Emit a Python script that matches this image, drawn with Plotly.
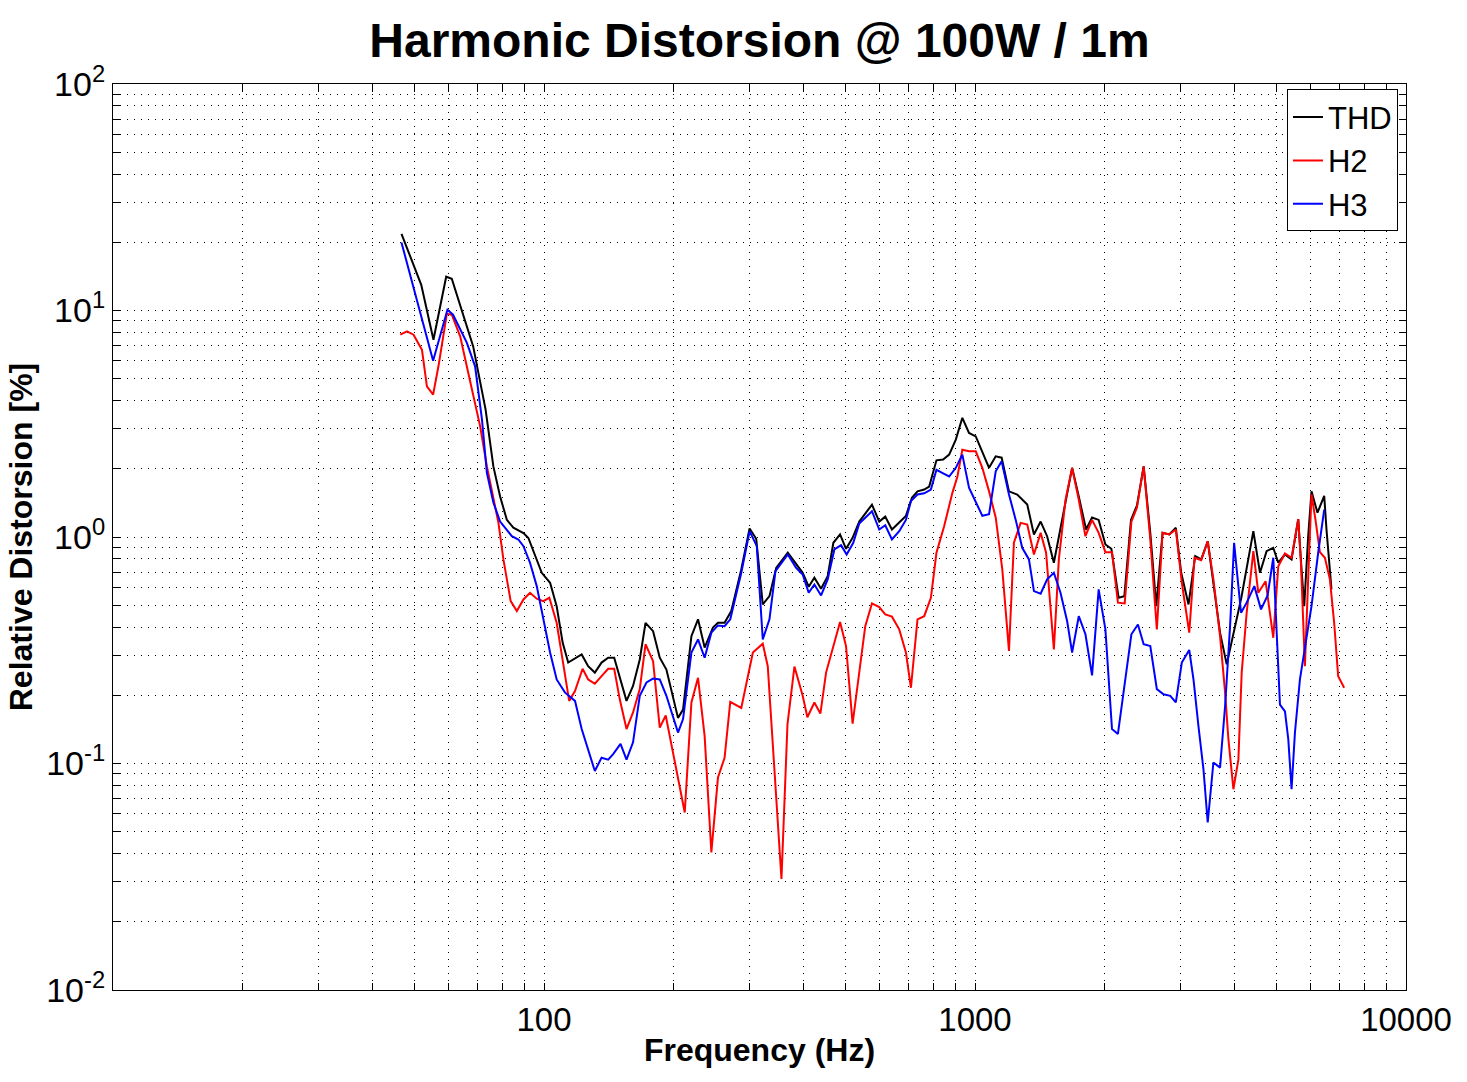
import plotly.graph_objects as go

# ---------------- data ----------------
thd_freq = [46.7, 51.9, 55.4, 59.3, 61.1, 68.5, 73.2, 76.3, 79.1, 82.0,
            84.9, 89.6, 92.0, 95.3, 98.8, 103.3, 107.0, 110.5, 113.8, 122.3,
            126.6, 131.2, 136.0, 140.9, 145.5, 155.4, 160.9, 166.8, 172.0, 179.1,
            185.6, 192.3, 204.6, 210.2, 219.8, 227.7, 235.9, 246.6, 253.3, 262.4,
            272.0, 286.9, 299.9, 310.7, 321.8, 333.5, 345.7, 367.8, 384.6, 398.3,
            411.3, 424.0, 439.4, 455.2, 469.2, 486.3, 502.1, 520.0, 538.9, 576.7,
            599.6, 619.1, 641.6, 667.1, 691.4, 713.9, 735.5, 762.3, 782.9, 813.9,
            843.5, 871.0, 902.6, 934.6, 968.5, 1004, 1040, 1078, 1117, 1153,
            1199, 1253, 1322, 1370, 1420, 1470, 1524, 1579, 1627, 1680,
            1741, 1810, 1869, 1936, 2007, 2072, 2154, 2221, 2301, 2376,
            2462, 2551, 2634, 2724, 2823, 2924, 3009, 3129, 3243, 3348,
            3467, 3574, 3703, 3837, 4150, 4424, 4584, 4748, 4921, 5054,
            5238, 5426, 5623, 5723, 5806, 5930, 6036, 6232, 6460, 6539,
            6716]
thd_vals = [21.8, 12.99, 7.43, 14.1, 13.8, 6.94, 3.65, 2.05, 1.51, 1.19,
            1.10, 1.04, 0.99, 0.823, 0.695, 0.628, 0.495, 0.341, 0.279, 0.303,
            0.269, 0.252, 0.279, 0.293, 0.293, 0.189, 0.220, 0.288, 0.418, 0.384,
            0.293, 0.260, 0.159, 0.173, 0.365, 0.433, 0.325, 0.398, 0.418, 0.418,
            0.471, 0.719, 1.09, 0.982, 0.504, 0.548, 0.731, 0.852, 0.756, 0.695,
            0.603, 0.661, 0.591, 0.672, 0.943, 1.026, 0.887, 0.992, 1.17, 1.39,
            1.17, 1.23, 1.079, 1.155, 1.24, 1.49, 1.59, 1.62, 1.67, 2.18,
            2.20, 2.31, 2.69, 3.36, 2.88, 2.78, 2.35, 2.02, 2.27, 2.24,
            1.59, 1.54, 1.39, 1.026, 1.17, 1.008, 0.770, 1.079, 1.46, 2.02,
            1.51, 1.079, 1.22, 1.19, 0.927, 0.887, 0.539, 0.548, 1.19, 1.38,
            2.05, 1.043, 0.495, 1.043, 1.026, 1.098, 0.695, 0.504, 0.823, 0.796,
            0.958, 0.628, 0.378, 0.274, 0.541, 1.061, 0.695, 0.866, 0.896, 0.770,
            0.837, 0.796, 1.20, 0.719, 0.495, 1.008, 1.59, 1.28, 1.52, 1.079,
            0.587]

h2_freq = [46.4, 48.1, 49.8, 51.2, 52.1, 53.5, 55.3, 56.9, 58.3, 59.5,
           61.1, 63.9, 66.2, 71.1, 73.7, 78.4, 80.5, 83.7, 86.5, 89.6,
           92.8, 96.2, 99.6, 102.9, 107.0, 110.8, 114.4, 118.0, 122.9, 126.6,
           131.2, 136.0, 140.9, 145.5, 149.9, 155.4, 160.9, 166.8, 172.0, 179.1,
           185.6, 191.6, 199.3, 212.1, 219.8, 227.7, 235.9, 244.5, 253.3, 262.4,
           270.5, 286.9, 305.2, 321.8, 330.5, 355.6, 367.2, 381.1, 398.3, 408.4,
           424.0, 437.8, 451.3, 486.3, 502.1, 520.0, 556.4, 576.7, 599.6, 619.1,
           641.6, 667.1, 691.4, 710.1, 735.5, 762.3, 790.0, 813.9, 848.0, 886.5,
           910.4, 934.6, 968.5, 1004, 1040, 1078, 1117, 1157, 1199, 1231,
           1276, 1322, 1370, 1420, 1462, 1524, 1565, 1622, 1680, 1741,
           1804, 1869, 1936, 2007, 2079, 2146, 2225, 2306, 2376, 2462,
           2551, 2642, 2724, 2823, 2924, 3019, 3141, 3231, 3348, 3467,
           3574, 3703, 3804, 3872, 3977, 4084, 4157, 4269, 4424, 4543,
           4723, 4921, 5054, 5238, 5426, 5623, 5705, 5827, 5953, 6036,
           6166, 6313, 6484, 6659, 6813, 6960, 7187]
h2_vals = [7.82, 8.08, 7.82, 7.06, 6.71, 4.62, 4.25, 5.67, 7.43, 9.67,
           9.58, 7.69, 5.67, 3.08, 2.05, 1.155, 0.796, 0.521, 0.471, 0.530,
           0.567, 0.534, 0.521, 0.539, 0.418, 0.269, 0.189, 0.209, 0.262, 0.235,
           0.225, 0.243, 0.262, 0.262, 0.192, 0.142, 0.168, 0.213, 0.336, 0.283,
           0.144, 0.163, 0.112, 0.0608, 0.186, 0.239, 0.132, 0.0405, 0.0867, 0.106,
           0.187, 0.176, 0.309, 0.338, 0.269, 0.0309, 0.149, 0.268, 0.199, 0.160,
           0.186, 0.166, 0.252, 0.421, 0.330, 0.150, 0.404, 0.509, 0.490, 0.455,
           0.445, 0.391, 0.309, 0.216, 0.433, 0.447, 0.539, 0.852, 1.116, 1.57,
           1.85, 2.43, 2.39, 2.39, 2.02, 1.59, 1.22, 0.719, 0.314, 0.943,
           1.155, 1.135, 0.837, 1.043, 0.852, 0.319, 0.796, 1.46, 2.02, 1.46,
           1.008, 1.19, 1.043, 0.857, 0.857, 0.513, 0.509, 1.17, 1.35, 2.05,
           0.975, 0.391, 1.043, 1.026, 1.079, 0.628, 0.378, 0.810, 0.790, 0.958,
           0.650, 0.365, 0.206, 0.128, 0.0770, 0.104, 0.252, 0.463, 0.866, 0.567,
           0.638, 0.359, 0.743, 0.846, 0.810, 1.20, 0.770, 0.269, 0.796, 1.54,
           1.19, 0.857, 0.810, 0.650, 0.418, 0.243, 0.216]

h3_freq = [46.7, 55.3, 59.7, 61.5, 66.2, 69.2, 71.8, 73.7, 76.3, 79.1,
           84.2, 87.2, 89.6, 92.8, 96.2, 100.5, 103.3, 107.0, 111.8, 118.0,
           122.3, 131.2, 136.0, 140.9, 144.7, 150.5, 155.4, 160.9, 166.8, 172.9,
           179.1, 185.6, 192.3, 204.6, 210.2, 219.8, 227.7, 235.9, 244.5, 253.3,
           262.4, 270.5, 286.9, 299.9, 311.7, 321.8, 333.5, 344.4, 367.8, 384.6,
           398.3, 411.3, 424.0, 439.4, 455.2, 471.7, 488.9, 503.7, 521.9, 538.9,
           576.7, 599.6, 619.1, 641.6, 667.1, 691.4, 710.1, 735.5, 762.3, 790.0,
           813.9, 843.5, 871.0, 902.6, 934.6, 968.5, 1004, 1040, 1078, 1117,
           1153, 1199, 1243, 1287, 1334, 1370, 1420, 1470, 1524, 1579,
           1636, 1680, 1741, 1804, 1869, 1936, 2007, 2079, 2146, 2225,
           2306, 2388, 2462, 2551, 2642, 2738, 2838, 2924, 3019, 3141,
           3213, 3300, 3389, 3467, 3574, 3703, 3804, 3907, 3992, 4069,
           4143, 4269, 4447, 4609, 4774, 4921, 5009, 5100, 5238, 5332,
           5426, 5525, 5674, 5827, 6036, 6255, 6460]
h3_vals = [19.96, 6.00, 10.08, 9.58, 7.21, 5.67, 3.30, 1.92, 1.42, 1.17,
           1.008, 0.975, 0.911, 0.770, 0.607, 0.404, 0.309, 0.235, 0.206, 0.189,
           0.142, 0.0927, 0.106, 0.104, 0.110, 0.122, 0.104, 0.124, 0.199, 0.228,
           0.237, 0.235, 0.199, 0.137, 0.157, 0.309, 0.353, 0.293, 0.378, 0.407,
           0.404, 0.433, 0.695, 1.061, 0.911, 0.353, 0.433, 0.707, 0.837, 0.731,
           0.683, 0.567, 0.617, 0.552, 0.650, 0.881, 0.920, 0.837, 0.943, 1.147,
           1.30, 1.079, 1.127, 0.975, 1.061, 1.19, 1.44, 1.54, 1.56, 1.62,
           1.98, 1.91, 1.85, 2.02, 2.31, 1.65, 1.42, 1.24, 1.26, 1.95,
           2.16, 1.54, 1.19, 0.896, 0.796, 0.577, 0.562, 0.650, 0.695, 0.567,
           0.425, 0.309, 0.447, 0.372, 0.245, 0.587, 0.391, 0.142, 0.135, 0.220,
           0.372, 0.411, 0.336, 0.330, 0.213, 0.202, 0.199, 0.186, 0.279, 0.317,
           0.235, 0.146, 0.0943, 0.0549, 0.101, 0.0959, 0.179, 0.404, 0.943, 0.650,
           0.463, 0.513, 0.607, 0.479, 0.552, 0.810, 0.353, 0.182, 0.170, 0.128,
           0.0770, 0.137, 0.235, 0.330, 0.495, 0.852, 1.32]

x_major = [100, 1000, 10000]
y_major = [0.01, 0.1, 1, 10, 100]
y_major_labels = ["10<sup>-2</sup>", "10<sup>-1</sup>", "10<sup>0</sup>",
                  "10<sup>1</sup>", "10<sup>2</sup>"]

# ---------------- ticks ----------------
x_tickvals, x_ticktext = [], []
for dec in [10, 100, 1000]:
    for m in range(1, 10):
        v = dec * m
        if v == 10:
            continue
        x_tickvals.append(v)
        x_ticktext.append(str(v) if v in x_major else "")
x_tickvals.append(10000)
x_ticktext.append("10000")

y_tickvals, y_ticktext = [], []
for i, dec in enumerate(y_major[:-1]):
    for m in range(1, 10):
        y_tickvals.append(dec * m)
        y_ticktext.append(y_major_labels[i] if m == 1 else "")
y_tickvals.append(100)
y_ticktext.append(y_major_labels[-1])

FONT = "Liberation Sans, Arial, Helvetica, sans-serif"

fig = go.Figure()
fig.add_trace(go.Scatter(x=thd_freq, y=thd_vals, mode="lines", name="THD",
                         line=dict(color="#000000", width=2)))
fig.add_trace(go.Scatter(x=h2_freq, y=h2_vals, mode="lines", name="H2",
                         line=dict(color="#ff0000", width=2)))
fig.add_trace(go.Scatter(x=h3_freq, y=h3_vals, mode="lines", name="H3",
                         line=dict(color="#0000ff", width=2)))

axis_common = dict(
    type="log", showline=True, linecolor="black", linewidth=1,
    mirror="allticks", ticks="inside", ticklen=7, tickcolor="black",
    showgrid=True, gridcolor="black", gridwidth=1, griddash="1px,6px",
    zeroline=False,
)

fig.update_layout(
    width=1467, height=1082,
    margin=dict(l=113, r=61, t=84, b=92),
    paper_bgcolor="white", plot_bgcolor="white",
    font=dict(family=FONT, color="black"),
    title=dict(text="<b>Harmonic Distorsion @ 100W / 1m</b>",
               x=0.5, xref="paper", xanchor="center",
               y=1 - 40 / 1082, yref="container", yanchor="middle",
               font=dict(family=FONT, size=48, color="black")),
    xaxis=dict(axis_common, range=[1, 4], tickvals=x_tickvals, ticktext=x_ticktext,
               tickfont=dict(family=FONT, size=33, color="black"),
               title=dict(text="<b>Frequency (Hz)</b>", standoff=2,
                          font=dict(family=FONT, size=32, color="black"))),
    yaxis=dict(axis_common, range=[-2, 2], tickvals=y_tickvals, ticktext=y_ticktext,
               tickfont=dict(family=FONT, size=34, color="black"),
               title=dict(text="<b>Relative Distorsion [%]</b>", standoff=4,
                          font=dict(family=FONT, size=32, color="black"))),
    legend=dict(x=0.9938, y=0.994, xanchor="right", yanchor="top",
                bgcolor="white", bordercolor="black", borderwidth=1,
                font=dict(family=FONT, size=31, color="black"),
                tracegroupgap=0),
    showlegend=True,
)

fig.write_html("out.html")
